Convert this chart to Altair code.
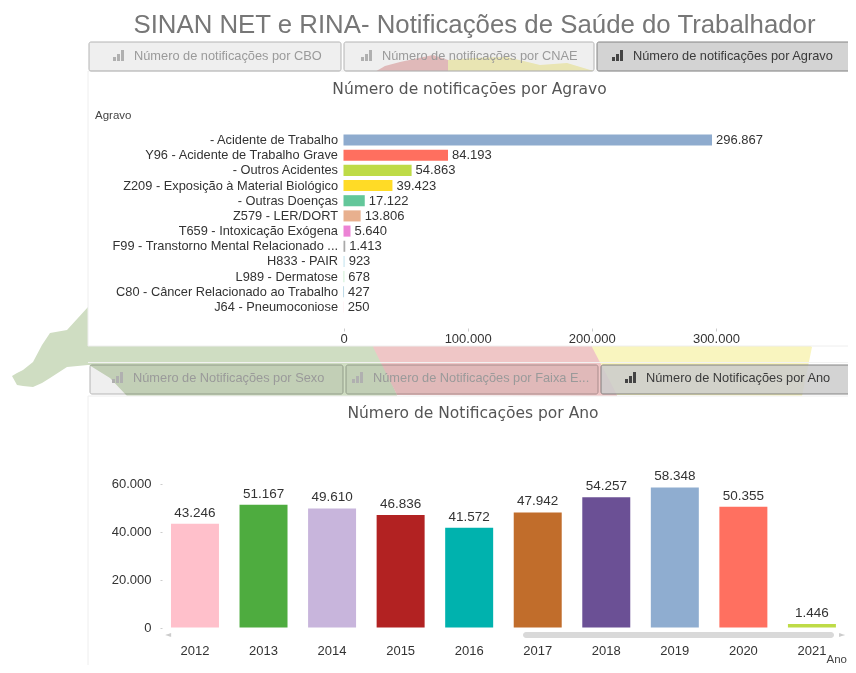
import altair as alt
import pandas as pd

W, H = 840, 657
OX, OY = 8, 8
SANS = "Liberation Sans"
WIDE = "DejaVu Sans"

agravos = ["- Acidente de Trabalho", "Y96 - Acidente de Trabalho Grave", "- Outros Acidentes",
           "Z209 - Exposição à Material Biológico", "- Outras Doenças", "Z579 - LER/DORT",
           "T659 - Intoxicação Exógena", "F99 - Transtorno Mental Relacionado ...", "H833 - PAIR",
           "L989 - Dermatose", "C80 - Câncer Relacionado ao Trabalho", "J64 - Pneumoconiose"]
agravo_vals = [296867, 84193, 54863, 39423, 17122, 13806, 5640, 1413, 923, 678, 427, 250]
agravo_colors = ["#8eabce", "#ff6f5f", "#bedb47", "#ffdb26", "#63c79a", "#e8b08e", "#ec83d5",
                 "#a9a9a9", "#c8e5f0", "#c5eccc", "#7fb5cf", "#fddde6"]
anos = ["2012", "2013", "2014", "2015", "2016", "2017", "2018", "2019", "2020", "2021"]
ano_vals = [43246, 51167, 49610, 46836, 41572, 47942, 54257, 58348, 50355, 1446]
ano_colors = ["#ffc0cb", "#4eac3f", "#c8b5dc", "#b22222", "#00b2ae", "#c16d2b", "#6b5095",
              "#8fadd0", "#ff7060", "#bedb47"]

THOUSANDS = "replace(format(datum.value, ','), /,/g, '.')"


def br(v):
    return f"{v:,}".replace(",", ".")


one = pd.DataFrame({"a": [0]})


def rect(x0, y0, x1, y1, fill, stroke=None, sw=1, radius=0, blend=None, opacity=1):
    kw = dict(fill=fill, cornerRadius=radius, opacity=opacity)
    if stroke:
        kw.update(stroke=stroke, strokeWidth=sw)
    if blend:
        kw["blend"] = blend
    return alt.Chart(one).mark_rect(**kw).encode(
        x=alt.value(x0 - OX), x2=alt.value(x1 - OX),
        y=alt.value(y0 - OY), y2=alt.value(y1 - OY))


def label(x, y, s, size=12, color="#333333", align="left", font=SANS, weight="normal"):
    return alt.Chart(one).mark_text(text=s, fontSize=size, color=color, align=align, baseline="middle",
                                    font=font, fontWeight=weight).encode(
        x=alt.value(x - OX), y=alt.value(y - OY))


def poly(xs, tops, bottoms, color):
    d = pd.DataFrame({"x": [x - OX for x in xs], "t": [t - OY for t in tops], "b": [b - OY for b in bottoms]})
    return alt.Chart(d).mark_area(color=color, orient="vertical", interpolate="linear").encode(
        x=alt.X("x:Q", scale=None, axis=None),
        y=alt.Y("t:Q", scale=None, axis=None),
        y2="b:Q")


GREEN, RED, YELLOW = "#cfddc2", "#efc6c6", "#f9f5bf"
bg = [
    poly([12, 17, 23, 33, 42, 50, 67, 88, 89, 110, 127, 373, 397],
         [376, 373, 370, 362, 345, 333, 330, 307, 340, 340, 340, 340, 395],
         [376, 385, 386, 387, 383, 378, 367, 365, 365, 378, 396, 396, 396], GREEN),
    poly([373, 397, 592, 617],
         [340, 340, 340, 395],
         [347, 395, 396, 396], RED),
    poly([592, 617, 802, 812],
         [340, 340, 340, 347],
         [347, 395, 396, 347], YELLOW),
    poly([373, 385, 400, 433, 448, 455],
         [73, 66, 62, 55, 60, 73], [73, 73, 73, 73, 73, 73], RED),
    poly([448, 473, 507, 540, 567, 597],
         [60, 58, 57, 65, 63, 72], [73, 73, 73, 73, 73, 73], YELLOW),
]

panels = [
    rect(88, 71, 851, 346, "#ffffff", "#eeeeee"),
    rect(88, 396, 860, 680, "#ffffff", "#eeeeee"),
    rect(88, 362, 860, 363, "#f2f2f2"),
]

tab_rows = [
    (42, 71, 56, [(89, 341, "Número de notificações por CBO", 134, False),
                  (344, 594, "Número de notificações por CNAE", 382, False),
                  (597, 851, "Número de notificações por Agravo", 633, True)]),
    (365, 394, 378, [(90, 343, "Número de Notificações por Sexo", 133, False),
                     (346, 598, "Número de Notificações por Faixa E...", 373, False),
                     (601, 855, "Número de Notificações por Ano", 646, True)]),
]
tabs = []
for y0, y1, yc, row in tab_rows:
    for x0, x1, s, tx, on in row:
        if on:
            tabs.append(rect(x0, y0, x1, y1, "#cccccc", "#6f6f6f", 1, 2, None, 0.85))
        else:
            tabs.append(rect(x0, y0, x1, y1, "#efefef", "#b4b4b4", 1, 2, "multiply"))
        c = "#444444" if on else "#b0b0b0"
        for i, h in enumerate([4, 7, 11]):
            tabs.append(rect(tx - 21 + i * 4, yc + 5 - h, tx - 18 + i * 4, yc + 5, c))
        tabs.append(label(tx, yc, s, 12.8, "#3a3a3a" if on else "#9a9a9a"))

texts = [
    label(474.5, 25, "SINAN NET e RINA- Notificações de Saúde do Trabalhador", 25.8, "#777777", "center"),
    label(469.5, 89, "Número de notificações por Agravo", 15.5, "#555555", "center", WIDE),
    label(95, 116, "Agravo", 11.5, "#444444"),
    label(473, 413, "Número de Notificações por Ano", 15.5, "#555555", "center", WIDE),
    label(847, 660, "Ano", 11.5, "#444444", "right"),
    rect(523, 632, 834, 638, "#d9d9d9", radius=3),
    label(168, 635, "◄", 8, "#cccccc", "center", WIDE),
    label(842, 635, "►", 8, "#cccccc", "center", WIDE),
]

# --- bar chart: notifications by condition ---
df_a = pd.DataFrame({"agravo": agravos, "v": agravo_vals, "txt": [br(v) for v in agravo_vals]})
x0_a = 343.5 - OX
scale_xa = alt.Scale(domain=[0, 300000], range=[x0_a, x0_a + 372.4], nice=False)
scale_ya = alt.Scale(domain=agravos, range=[132.4 - OY, 132.4 - OY + 182.2], paddingInner=0.27, paddingOuter=0.135)
bars_a = alt.Chart(df_a).mark_bar().encode(
    x=alt.X("v:Q", scale=scale_xa,
            axis=alt.Axis(orient="bottom", offset=-(H - (328 - OY)), values=[0, 100000, 200000, 300000],
                          labelExpr=THOUSANDS, domain=False, grid=False, tickColor="#cccccc", tickSize=3,
                          labelPadding=1, labelFlush=False, labelFont=SANS, labelFontSize=13,
                          labelColor="#333333", title=None, zindex=1)),
    y=alt.Y("agravo:N", sort=agravos, scale=scale_ya,
            axis=alt.Axis(orient="left", offset=-x0_a, domain=False, ticks=False, labelPadding=6, labelLimit=300,
                          labelFont=SANS, labelFontSize=12.8, labelColor="#333333", title=None, zindex=1)),
    color=alt.Color("agravo:N", scale=alt.Scale(domain=agravos, range=agravo_colors), legend=None))
text_a = alt.Chart(df_a).mark_text(align="left", dx=4, font=SANS, fontSize=13, color="#333333").encode(
    x=alt.X("v:Q", scale=scale_xa, axis=None),
    y=alt.Y("agravo:N", sort=agravos, scale=scale_ya, axis=None),
    text="txt:N")

# --- bar chart: notifications by year ---
df_y = pd.DataFrame({"ano": anos, "v": ano_vals, "txt": [br(v) for v in ano_vals]})
scale_xy = alt.Scale(domain=anos, range=[160.7 - OX, 160.7 - OX + 685.5], paddingInner=0.3, paddingOuter=0.15)
scale_yy = alt.Scale(domain=[0, 60000], range=[627.5 - OY, 483.5 - OY], nice=False)
bars_y = alt.Chart(df_y).mark_bar().encode(
    x=alt.X("ano:N", sort=anos, scale=scale_xy,
            axis=alt.Axis(orient="bottom", offset=-(H - (643 - OY)), labelAngle=0, domain=False, ticks=False,
                          labelPadding=1, labelFont=SANS, labelFontSize=13, labelColor="#333333", title=None,
                          zindex=1)),
    y=alt.Y("v:Q", stack=None, scale=scale_yy,
            axis=alt.Axis(orient="left", offset=-(162 - OX), values=[0, 20000, 40000, 60000], labelExpr=THOUSANDS,
                          domain=False, grid=False, tickColor="#cccccc", tickSize=2, labelPadding=9,
                          labelFont=SANS, labelFontSize=13, labelColor="#333333", title=None, zindex=1)),
    color=alt.Color("ano:N", scale=alt.Scale(domain=anos, range=ano_colors), legend=None))
text_y = alt.Chart(df_y).mark_text(baseline="bottom", dy=-4, font=SANS, fontSize=13.5, color="#333333").encode(
    x=alt.X("ano:N", sort=anos, scale=scale_xy, axis=None),
    y=alt.Y("v:Q", stack=None, scale=scale_yy, axis=None),
    text="txt:N")

chart = alt.layer(*bg, *panels, *tabs, *texts, bars_a, text_a, bars_y, text_y).resolve_scale(
    x="independent", y="independent", color="independent"
).properties(width=W, height=H, padding=0, autosize=alt.AutoSizeParams(type="none")
).configure_view(strokeWidth=0)

chart.save("out.html", embed_options={"renderer": "svg", "actions": False})
